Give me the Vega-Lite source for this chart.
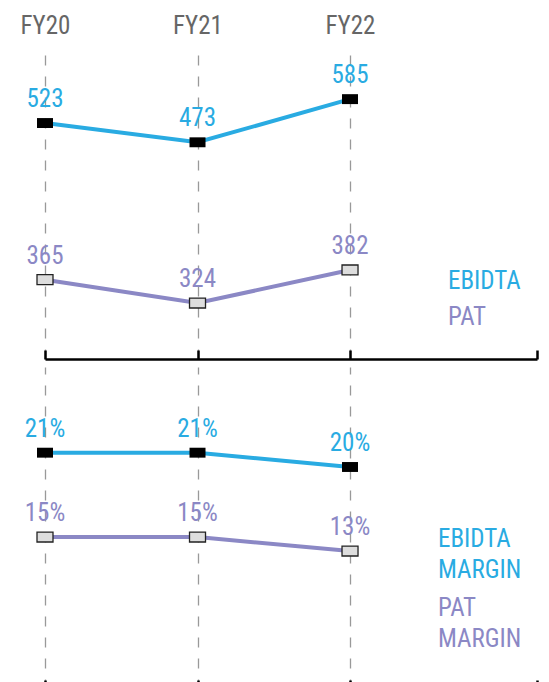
{
  "$schema": "https://vega.github.io/schema/vega-lite/v6.json",
  "padding": {"left": 20, "top": 13, "right": 5, "bottom": 0},
  "config": {
    "view": {"stroke": null},
    "font": "Liberation Sans Narrow, Roboto Condensed, DejaVu Sans Condensed, Roboto, sans-serif"
  },
  "datasets": {
    "abs": [
      {"year": 2020, "series": "EBIDTA", "value": 523},
      {"year": 2021, "series": "EBIDTA", "value": 473},
      {"year": 2022, "series": "EBIDTA", "value": 585},
      {"year": 2020, "series": "PAT", "value": 365},
      {"year": 2021, "series": "PAT", "value": 324},
      {"year": 2022, "series": "PAT", "value": 382}
    ],
    "margin": [
      {"year": 2020, "series": "EBIDTA MARGIN", "value": 0.21},
      {"year": 2021, "series": "EBIDTA MARGIN", "value": 0.21},
      {"year": 2022, "series": "EBIDTA MARGIN", "value": 0.20},
      {"year": 2020, "series": "PAT MARGIN", "value": 0.15},
      {"year": 2021, "series": "PAT MARGIN", "value": 0.15},
      {"year": 2022, "series": "PAT MARGIN", "value": 0.13}
    ]
  },
  "spacing": 6,
  "resolve": {"scale": {"color": "independent"}},
  "vconcat": [
    {
      "width": 492,
      "height": 306,
      "data": {"name": "abs"},
      "resolve": {"scale": {"y": "independent"}, "axis": {"x": "independent"}},
      "layer": [
        {
          "transform": [{"filter": "datum.series === 'EBIDTA'"}],
          "encoding": {
            "x": {
              "field": "year", "type": "quantitative",
              "scale": {"domain": [2020, 2023.226], "nice": false, "zero": false},
              "axis": {
                "orient": "top", "values": [2020, 2021, 2022], "title": null,
                "labelExpr": "'FY' + slice(toString(datum.value), 2)",
                "grid": true, "gridDash": [10, 11], "gridColor": "#999999", "gridWidth": 1.3,
                "domain": false, "ticks": false, "tickSize": 0,
                "labelFontSize": 25, "labelColor": "#666666", "labelPadding": 20,
                "labelBaseline": "alphabetic", "labelFlush": false
              }
            },
            "y": {
              "field": "value", "type": "quantitative",
              "scale": {"domain": [-89.3, 704.7], "nice": false, "zero": false},
              "axis": null
            }
          },
          "layer": [
            {
              "mark": {"type": "line", "strokeWidth": 4},
              "encoding": {
                "color": {
                  "field": "series", "type": "nominal",
                  "scale": {"domain": ["EBIDTA", "PAT"], "range": ["#29abe2", "#8b88c5"]},
                  "legend": {
                    "orient": "none", "legendX": 378, "legendY": 215, "title": null,
                    "symbolSize": 0, "symbolStrokeWidth": 0, "symbolOpacity": 0,
                    "labelFontSize": 25, "labelOffset": 0, "rowPadding": 10,
                    "encode": {"labels": {"update": {"fill": {"signal": "indexof(datum.value, 'PAT') === 0 ? '#8b88c5' : '#29abe2'"}}}}
                  }
                }
              }
            },
            {
              "mark": {"type": "point", "shape": "M-1,-0.62L1,-0.62L1,0.62L-1,0.62Z", "size": 256, "filled": true, "fill": "#000000", "opacity": 1}
            },
            {
              "mark": {"type": "text", "dy": -24, "fontSize": 25, "baseline": "middle"},
              "encoding": {
                "text": {"field": "value", "type": "quantitative"},
                "color": {"field": "series", "type": "nominal"}
              }
            }
          ]
        },
        {
          "transform": [{"filter": "datum.series === 'PAT'"}],
          "encoding": {
            "x": {
              "field": "year", "type": "quantitative",
              "scale": {"domain": [2020, 2023.226], "nice": false, "zero": false},
              "axis": {
                "orient": "bottom", "values": [2020, 2021, 2022, 2023.226], "title": null,
                "labels": false, "grid": false,
                "domain": true, "domainColor": "#000000", "domainWidth": 2.5,
                "ticks": true, "tickColor": "#000000", "tickWidth": 2.5, "tickSize": -9
              }
            },
            "y": {
              "field": "value", "type": "quantitative",
              "scale": {"domain": [225.8, 762.7], "nice": false, "zero": false},
              "axis": null
            }
          },
          "layer": [
            {
              "mark": {"type": "line", "strokeWidth": 4},
              "encoding": {"color": {"field": "series", "type": "nominal"}}
            },
            {
              "mark": {"type": "point", "shape": "M-1,-0.62L1,-0.62L1,0.62L-1,0.62Z", "size": 256, "filled": true, "fill": "#dddddd", "stroke": "#222222", "strokeWidth": 1.3, "opacity": 1}
            },
            {
              "mark": {"type": "text", "dy": -24, "fontSize": 25, "baseline": "middle"},
              "encoding": {
                "text": {"field": "value", "type": "quantitative"},
                "color": {"field": "series", "type": "nominal"}
              }
            }
          ]
        }
      ]
    },
    {
      "width": 492,
      "height": 322,
      "data": {"name": "margin"},
      "resolve": {"scale": {"y": "independent"}, "axis": {"x": "independent"}},
      "layer": [
        {
          "transform": [{"filter": "datum.series === 'EBIDTA MARGIN'"}],
          "encoding": {
            "x": {
              "field": "year", "type": "quantitative",
              "scale": {"domain": [2020, 2023.226], "nice": false, "zero": false},
              "axis": {
                "orient": "top", "values": [2020, 2021, 2022], "title": null,
                "labels": false,
                "grid": true, "gridDash": [10, 11], "gridColor": "#999999", "gridWidth": 1.3,
                "domain": false, "ticks": false, "tickSize": 0
              }
            },
            "y": {
              "field": "value", "type": "quantitative",
              "scale": {"domain": [0.0448, 0.2699], "nice": false, "zero": false},
              "axis": null
            }
          },
          "layer": [
            {
              "mark": {"type": "line", "strokeWidth": 4},
              "encoding": {
                "color": {
                  "field": "series", "type": "nominal",
                  "scale": {"domain": ["EBIDTA MARGIN", "PAT MARGIN"], "range": ["#29abe2", "#8b88c5"]},
                  "legend": {
                    "orient": "none", "legendX": 368, "legendY": 159, "title": null,
                    "symbolSize": 0, "symbolStrokeWidth": 0, "symbolOpacity": 0,
                    "labelFontSize": 25, "labelOffset": 0, "rowPadding": 12,
                    "labelExpr": "split(datum.label, ' ')",
                    "encode": {"labels": {"update": {"lineHeight": {"value": 31}, "fill": {"signal": "indexof(datum.value, 'PAT') === 0 ? '#8b88c5' : '#29abe2'"}}}}
                  }
                }
              }
            },
            {
              "mark": {"type": "point", "shape": "M-1,-0.62L1,-0.62L1,0.62L-1,0.62Z", "size": 256, "filled": true, "fill": "#000000", "opacity": 1}
            },
            {
              "mark": {"type": "text", "dy": -24, "fontSize": 25, "baseline": "middle"},
              "encoding": {
                "text": {"field": "value", "type": "quantitative", "format": ".0%"},
                "color": {"field": "series", "type": "nominal"}
              }
            }
          ]
        },
        {
          "transform": [{"filter": "datum.series === 'PAT MARGIN'"}],
          "encoding": {
            "x": {
              "field": "year", "type": "quantitative",
              "scale": {"domain": [2020, 2023.226], "nice": false, "zero": false},
              "axis": {
                "orient": "bottom", "values": [2020, 2021, 2022, 2023.226], "title": null,
                "labels": false, "grid": false,
                "domain": true, "domainColor": "#000000", "domainWidth": 2.5,
                "ticks": true, "tickColor": "#000000", "tickWidth": 2.5, "tickSize": -9
              }
            },
            "y": {
              "field": "value", "type": "quantitative",
              "scale": {"domain": [-0.0671, 0.3929], "nice": false, "zero": false},
              "axis": null
            }
          },
          "layer": [
            {
              "mark": {"type": "line", "strokeWidth": 4},
              "encoding": {"color": {"field": "series", "type": "nominal"}}
            },
            {
              "mark": {"type": "point", "shape": "M-1,-0.62L1,-0.62L1,0.62L-1,0.62Z", "size": 256, "filled": true, "fill": "#dddddd", "stroke": "#222222", "strokeWidth": 1.3, "opacity": 1}
            },
            {
              "mark": {"type": "text", "dy": -24, "fontSize": 25, "baseline": "middle"},
              "encoding": {
                "text": {"field": "value", "type": "quantitative", "format": ".0%"},
                "color": {"field": "series", "type": "nominal"}
              }
            }
          ]
        }
      ]
    }
  ]
}
